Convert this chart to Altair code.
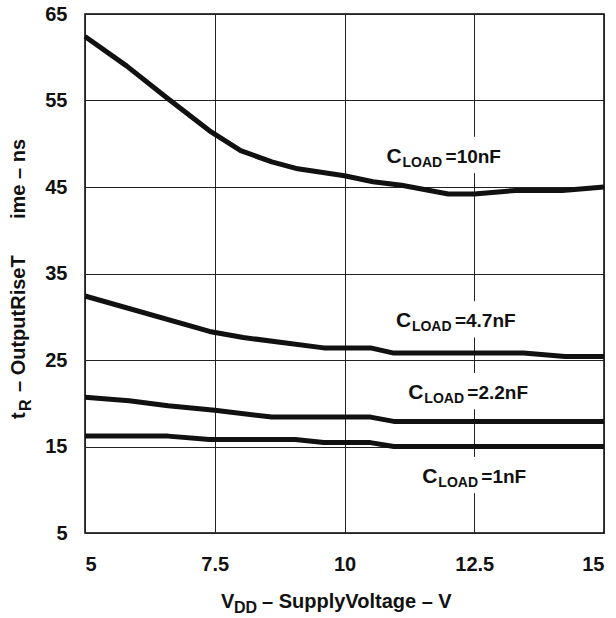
import altair as alt
import pandas as pd

# ---- data ----
series_names = ["10nF", "4.7nF", "2.2nF", "1nF"]

vdd_10 = [5.0, 5.8, 6.6, 7.4, 8.0, 8.6, 9.1, 10.0, 10.55, 11.1, 12.0, 12.5, 13.3, 14.2, 15.0]
tr_10 = [62.4, 59.0, 55.2, 51.5, 49.2, 47.9, 47.1, 46.3, 45.6, 45.2, 44.2, 44.2, 44.6, 44.6, 45.0]

vdd_47 = [5.0, 7.4, 8.05, 9.6, 10.5, 10.95, 13.45, 14.25, 15.0]
tr_47 = [32.4, 28.3, 27.6, 26.4, 26.4, 25.8, 25.8, 25.4, 25.4]

vdd_22 = [5.0, 5.85, 6.6, 7.5, 8.6, 10.5, 10.95, 15.0]
tr_22 = [20.7, 20.3, 19.7, 19.2, 18.4, 18.4, 17.9, 17.9]

vdd_1 = [5.0, 6.6, 7.4, 9.05, 9.6, 10.5, 10.95, 15.0]
tr_1 = [16.2, 16.2, 15.8, 15.8, 15.45, 15.45, 15.0, 15.0]

label_values = ["=10nF", "=4.7nF", "=2.2nF", "=1nF"]
label_x = [10.81, 10.99, 11.23, 11.50]
label_y = [47.8, 28.8, 20.5, 10.8]

x_ticks = [5, 7.5, 10, 12.5, 15]
y_ticks = [5, 15, 25, 35, 45, 55, 65]

rows = []
for name, xs, ys in zip(series_names, [vdd_10, vdd_47, vdd_22, vdd_1], [tr_10, tr_47, tr_22, tr_1]):
    for xv, yv in zip(xs, ys):
        rows.append({"series": name, "vdd": xv, "tr": yv})
df = pd.DataFrame(rows)

labels = pd.DataFrame({"value": label_values, "lx": label_x, "ly": label_y})

FONT = "Liberation Sans"
INK = "#111111"

x_scale = alt.Scale(domain=[5, 15], nice=False, zero=False)
y_scale = alt.Scale(domain=[5, 65], nice=False, zero=False)

lines = alt.Chart(df).mark_line(color=INK, strokeWidth=5, strokeJoin="round", strokeCap="butt").encode(
    x=alt.X("vdd:Q", scale=x_scale,
            axis=alt.Axis(values=x_ticks, labelExpr="'' + datum.value", title=None, grid=True,
                          ticks=False, domain=False, labelPadding=21)),
    y=alt.Y("tr:Q", scale=y_scale,
            axis=alt.Axis(values=y_ticks, format="d", title=None, grid=True, ticks=False,
                          domain=False, labelPadding=18)),
    detail="series:N",
)

# white gaps in the 12.5 gridline behind the labels
gaps = alt.Chart(labels).transform_calculate(
    gx1="12.42", gx2="12.58", gy1="datum.ly - 1.2", gy2="datum.ly + 3.0"
).mark_rect(color="white").encode(
    x=alt.X("gx1:Q", scale=x_scale), x2="gx2:Q",
    y=alt.Y("gy1:Q", scale=y_scale), y2="gy2:Q",
)

lab_c = alt.Chart(labels).mark_text(
    text="C", align="left", baseline="alphabetic", font=FONT, fontWeight="bold", fontSize=21, color=INK
).encode(x=alt.X("lx:Q", scale=x_scale), y=alt.Y("ly:Q", scale=y_scale))

lab_sub = alt.Chart(labels).mark_text(
    text="LOAD", align="left", baseline="alphabetic", font=FONT, fontWeight="bold", fontSize=14,
    color=INK, dx=16, dy=4
).encode(x=alt.X("lx:Q", scale=x_scale), y=alt.Y("ly:Q", scale=y_scale))

lab_val = alt.Chart(labels).mark_text(
    align="left", baseline="alphabetic", font=FONT, fontWeight="bold", fontSize=19,
    color=INK, dx=59
).encode(x=alt.X("lx:Q", scale=x_scale), y=alt.Y("ly:Q", scale=y_scale), text="value:N")

one = pd.DataFrame({"k": [0]})


def piece(txt, px, py, size, angle=0):
    kw = dict(text=txt, align="left", baseline="alphabetic", font=FONT, fontWeight="bold",
              fontSize=size, color=INK)
    if angle:
        kw["angle"] = angle
    return alt.Chart(one).mark_text(**kw).encode(x=alt.value(px), y=alt.value(py))


# y axis title: t_R – OutputRiseT    ime – ns (rotated)
yt1 = piece("t", -60, 405, 20, 270)
yt2 = piece("R", -54, 397, 16, 270)
yt3 = piece("– OutputRiseT", -60, 378, 20, 270)
yt4 = piece("ime – ns", -60, 205, 20, 270)

# x axis title: V_DD – SupplyVoltage – V
xt1 = piece("V", 136, 594, 20)
xt2 = piece("DD", 149, 599, 16)
xt3 = piece("– SupplyVoltage – V", 177, 594, 20)

chart = alt.layer(
    gaps, lines, lab_c, lab_sub, lab_val, yt1, yt2, yt3, yt4, xt1, xt2, xt3
).properties(
    width=519, height=519,
    autosize=alt.AutoSizeParams(type="none"),
    padding={"left": 85, "top": 14, "right": 12, "bottom": 85},
    background="white",
).configure_view(
    stroke="#000000", strokeWidth=1.5
).configure_axis(
    labelFont=FONT, labelFontWeight="bold", labelFontSize=20, labelColor=INK,
    gridColor="#222222", gridWidth=1, gridOpacity=1,
)

chart.save("out.html", embed_options={"renderer": "svg", "actions": False})
